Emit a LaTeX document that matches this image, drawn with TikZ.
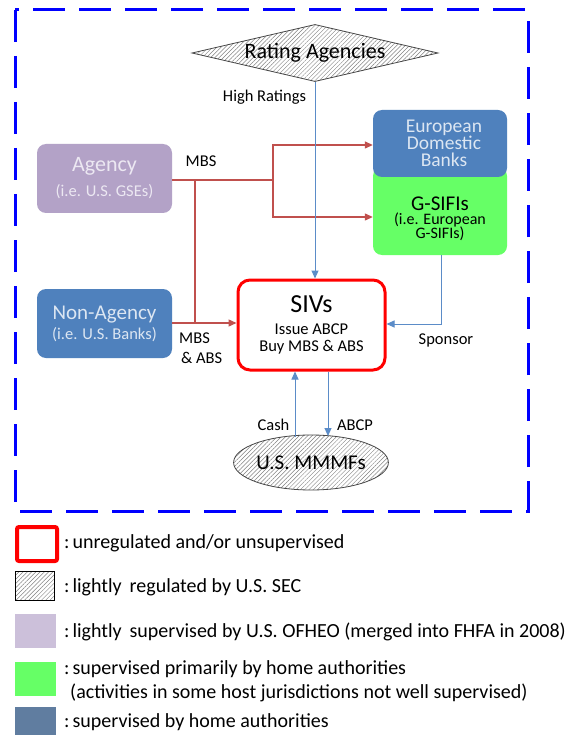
\documentclass[tikz,border=0pt]{standalone}
\usepackage{fontspec}
\setmainfont{Carlito}
\usetikzlibrary{shapes.geometric,arrows.meta,patterns.meta,calc}
\definecolor{frameblue}{RGB}{0,0,255}
\definecolor{boxblue}{RGB}{79,129,189}
\definecolor{boxtext}{RGB}{220,230,242}
\definecolor{agencyfill}{RGB}{179,162,199}
\definecolor{agencytext}{RGB}{236,232,242}
\definecolor{gsifigreen}{RGB}{102,255,102}
\definecolor{redflow}{RGB}{192,80,77}
\definecolor{blueflow}{RGB}{91,140,200}
\definecolor{legpurple}{RGB}{204,192,218}
\definecolor{legblue}{RGB}{96,125,160}
\definecolor{hatchgray}{RGB}{70,70,70}
\definecolor{hatchline}{RGB}{130,130,130}
\newcommand{\myfs}[2]{\fontsize{#1}{#2}\selectfont\lineskiplimit=-30pt\lineskip=0pt\relax}
\begin{document}
\begin{tikzpicture}[x=1pt,y=-1pt,
  hatched/.style={draw=hatchgray, line width=0.8pt,
    pattern={Lines[angle=45,distance=3pt,line width=0.45pt]}, pattern color=hatchline},
  entity/.style={rectangle, rounded corners=9pt, inner sep=0pt, align=center},
  redarrow/.style={draw=redflow, line width=1.3pt, -{Triangle[length=8pt,width=7pt]}},
  redpath/.style={draw=redflow, line width=1.3pt},
  bluearrow/.style={draw=blueflow, line width=1pt, -{Triangle[length=8pt,width=7pt]}},
  lbl/.style={inner sep=0pt, font=\myfs{16.5}{18}},
  legbox/.style={rectangle, inner sep=0pt, anchor=north west},
  legtext/.style={inner sep=0pt, anchor=west, align=left, font=\myfs{20}{24.5}}
]
\useasboundingbox (0,0) rectangle (569,735);
\fill[white] (0,0) rectangle (569,735);

% outer frame
\draw[frameblue, line width=3pt, dash pattern=on 32pt off 14pt] (15,10) rectangle (528,511);

% nodes
\node[diamond, hatched, inner sep=0pt, shape aspect=4.3, minimum width=246pt, minimum height=57pt,
      font=\myfs{22}{24}] (rating) at (315,53) {Rating Agencies};

\node[entity, fill=gsifigreen, minimum width=134pt, minimum height=88pt, font=\myfs{16}{14}] (gsifi) at (440,211)
  {\rule{0pt}{29pt}\myfs{21}{22}G-SIFIs\\[0pt](i.e. European\\G-SIFIs)};
\node[entity, fill=boxblue, text=boxtext, minimum width=134pt, minimum height=67pt,
      font=\myfs{19.5}{17}] (edb) at (440,143.5) {\hspace*{8pt}European\\\hspace*{8pt}Domestic\\\hspace*{8pt}Banks};

\node[entity, fill=agencyfill, text=agencytext, minimum width=135pt, minimum height=69pt, font=\myfs{16.5}{18}] (agency) at (104.5,178.5)
  {\myfs{22}{24}Agency\\[7pt](i.e. U.S. GSEs)};
\node[entity, fill=boxblue, text=boxtext, minimum width=135pt, minimum height=69pt, font=\myfs{16.5}{18}] (nonagency) at (104.5,323.5)
  {\myfs{21}{22}Non-Agency\\[2pt](i.e. U.S. Banks)};

\node[entity, draw=red, line width=3pt, rounded corners=12pt, minimum width=147pt, minimum height=90pt, font=\myfs{16.5}{17}] (sivs) at (311.5,325)
  {\myfs{26}{28}SIVs\\[5pt]Issue ABCP\\Buy MBS \& ABS};

\node[ellipse, hatched, inner sep=0pt, minimum width=146pt, minimum height=55pt,
      font=\myfs{21}{23}] (mmmf) at (311,462.5) {U.S. MMMFs};

% junctions
\coordinate (j1) at (273,180);
\coordinate (j2) at (195,180);

% red flows
\draw[redpath] (agency.east |- j1) -- (j1);
\draw[redarrow] (j1) |- (edb.west |- 0,145);
\draw[redarrow] (j1) |- (gsifi.west |- 0,217);
\draw[redpath] (j2) -- (j2 |- 0,323);
\draw[redarrow] (nonagency.east |- 0,323) -- (sivs.west |- 0,323);

% blue flows
\draw[bluearrow] (rating.south) -- (rating.south |- sivs.north);
\draw[bluearrow] (gsifi.south -| 441,0) |- (sivs.east |- 0,324);
\coordinate (cashtop) at ($(sivs.south)+(-16.5,0)$);
\coordinate (abcptop) at ($(sivs.south)+(16.5,0)$);
\draw[bluearrow] (cashtop |- 0,436.5) -- (cashtop);
\draw[bluearrow] (abcptop) -- (abcptop |- 0,436);

% labels
\node[lbl] (lhigh) at (264.5,97) {High Ratings};
\node[lbl] (lmbs1) at (201,161) {MBS};
\node[lbl, align=left, anchor=west, font=\myfs{16.5}{20}] (lmbs2) at (179,348) {MBS\\\hspace*{2pt}\& ABS};
\node[lbl] (lspon) at (446,340) {Sponsor};
\node[lbl] (lcash) at (273.5,425) {Cash};
\node[lbl] (labcp) at (355,425) {ABCP};

% legend
\node[legbox, draw=red, line width=4pt, rounded corners=2pt, minimum width=40pt, minimum height=34pt] (kred) at (15,525) {};
\node[legbox, hatched, draw=black, minimum width=39pt, minimum height=29pt] (khatch) at (15,571) {};
\node[legbox, fill=legpurple, minimum width=41pt, minimum height=34pt] (kpurple) at (15,614) {};
\node[legbox, fill=gsifigreen, minimum width=41pt, minimum height=34pt] (kgreen) at (15,662) {};
\node[legbox, fill=legblue, minimum width=41pt, minimum height=28pt] (kblue) at (15,707) {};

\node[legtext] (tred) at (64,543) {:\hspace{3pt}unregulated and/or unsupervised};
\node[legtext] (thatch) at (64,587) {:\hspace{3pt}lightly\, regulated by U.S. SEC};
\node[legtext] (tpurple) at (64,632) {:\hspace{3pt}lightly\, supervised by U.S. OFHEO (merged into FHFA in 2008)};
\node[legtext] (tgreen) at (64,681.5) {:\hspace{3pt}supervised primarily by home authorities\\\hspace*{6pt}(activities in some host jurisdictions not well supervised)};
\node[legtext] (tblue) at (64,722) {:\hspace{3pt}supervised by home authorities};
\end{tikzpicture}
\end{document}
